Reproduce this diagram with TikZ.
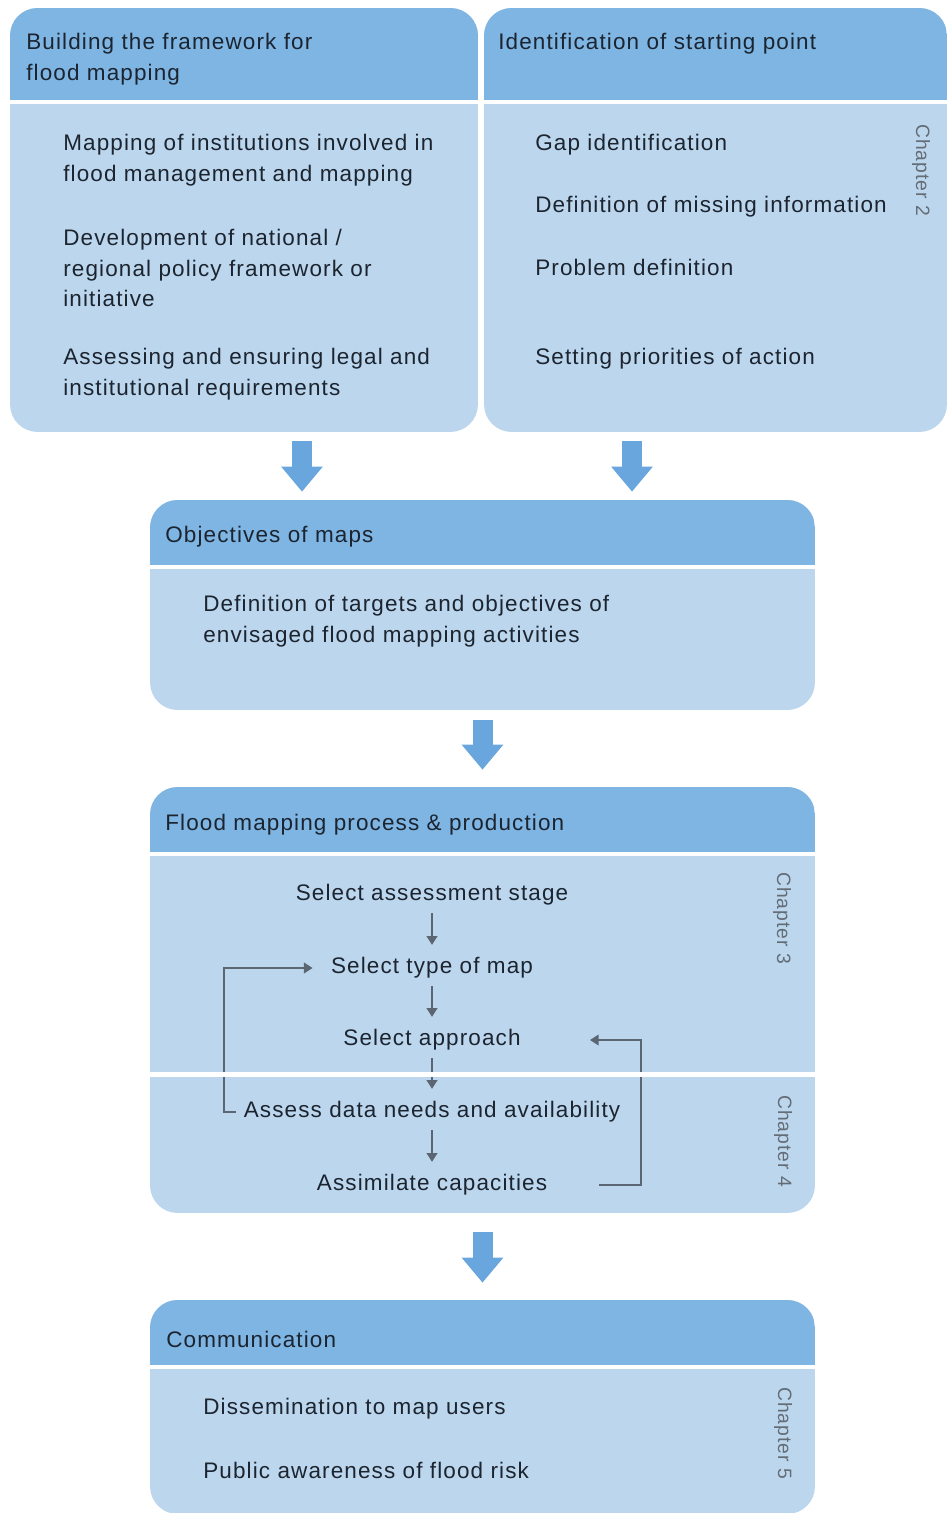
\documentclass[tikz,border=0pt]{standalone}
\usepackage{fontspec}
\setmainfont{Liberation Sans}[LetterSpace=5]
\usetikzlibrary{arrows.meta}

\definecolor{headblue}{RGB}{126,181,227}
\definecolor{bodyblue}{RGB}{188,215,237}
\definecolor{arrowblue}{RGB}{104,166,221}
\definecolor{ink}{RGB}{28,36,48}
\definecolor{flowgray}{RGB}{92,102,114}
\definecolor{chapgray}{RGB}{100,108,118}

\tikzset{
  stage/.style={fill=bodyblue, rounded corners=0.55cm, inner sep=0pt,
    path picture={
      \fill[headblue, sharp corners] (path picture bounding box.north west) rectangle ([yshift=-#1]path picture bounding box.north east);
      \draw[white, line width=0.08cm, sharp corners] ([yshift=-#1]path picture bounding box.north west) -- ([yshift=-#1]path picture bounding box.north east);
    }},
  txt/.style={inner sep=0pt, align=left, text=ink, font=\fontsize{12.8}{17.6}\selectfont},
  chap/.style={inner sep=0pt, rotate=-90, text=chapgray, font=\fontsize{11}{13}\selectfont},
  bigarrow/.style={draw=arrowblue, line width=0.4cm, -{Triangle[width=0.8cm,length=0.5cm]}},
  flow/.style={draw=flowgray, line width=1.4pt, -{Triangle[width=6pt,length=5pt]}, shorten <=4pt, shorten >=7pt},
  loopline/.style={draw=flowgray, line width=1.4pt, -{Triangle[width=6pt,length=5pt]}},
}

\begin{document}
\begin{tikzpicture}[x=0.02cm, y=-0.02cm]
        \useasboundingbox (0,0) rectangle (949,1513);

        % Boxes
        \node[stage=1.88cm, minimum width=9.36cm, minimum height=8.48cm] (b1) at (244,220) {};
        \node[stage=1.88cm, minimum width=9.26cm, minimum height=8.48cm] (b2) at (715.5,220) {};
        \node[stage=1.34cm, minimum width=13.3cm, minimum height=4.2cm] (b3) at (482.5,605) {};
        \node[stage=1.34cm, minimum width=13.3cm, minimum height=8.52cm] (b4) at (482.5,1000) {};
        \node[stage=1.34cm, minimum width=13.3cm, minimum height=4.28cm] (b5) at (482.5,1407) {};

        % Building the framework
        \node[txt, anchor=west] (t1) at (26,59.5) {Building the framework for\\flood mapping};
        \node[txt, anchor=west] (m1) at (63,160.5) {Mapping of institutions involved in\\flood management and mapping};
        \node[txt, anchor=west] (m2) at (63,268) {Development of national /\\regional policy framework or\\initiative};
        \node[txt, anchor=west] (m3) at (63,374.5) {Assessing and ensuring legal and\\institutional requirements};

        % Starting point
        \node[txt, anchor=west] (t2) at (498,44) {Identification of starting point};
        \node[txt, anchor=west] (g1) at (535,145) {Gap identification};
        \node[txt, anchor=west] (g2) at (535,207) {Definition of missing information};
        \node[txt, anchor=west] (g3) at (535,267) {Problem definition};
        \node[txt, anchor=west] (g4) at (535,359) {Setting priorities of action};
        \node[chap] (ch2) at (921,170) {Chapter 2};

        % Objectives
        \node[txt, anchor=west] (t3) at (165,537) {Objectives of maps};
        \node[txt, anchor=west] (o1) at (203,621.5) {Definition of targets and objectives of\\envisaged flood mapping activities};

        % Process & production
        \node[txt, anchor=west] (t4) at (165,825) {Flood mapping process \& production};
        \node[txt] (s1) at (432,895) {Select assessment stage};
        \node[txt] (s2) at (432,968) {Select type of map};
        \node[txt] (s3) at (432,1040) {Select approach};
        \node[txt] (s4) at (432,1112) {Assess data needs and availability};
        \node[txt] (s5) at (432,1185) {Assimilate capacities};
        \node[chap] (ch3) at (782,918) {Chapter 3};
        \node[chap] (ch4) at (783,1141) {Chapter 4};

        \draw[flow] (s1) -- (s2);
        \draw[flow] (s2) -- (s3);
        \draw[flow] (s3) -- (s4);
        \draw[flow] (s4) -- (s5);

        % Feedback loops
        \coordinate (l) at (224,0);
        \coordinate (r) at (641,0);
        \draw[loopline] ([xshift=-4.5pt]s4.west) -- (s4.west -| l) |- ([xshift=-0.36cm]s2.west);
        \draw[loopline] ([xshift=1.04cm]s5.east) -- (s5.east -| r) |- ([xshift=1.38cm]s3.east);
        \draw[white, line width=0.1cm] ([yshift=-5.75cm]b4.north west) -- ([yshift=-5.75cm]b4.north east);

        % Communication
        \node[txt, anchor=west] (t5) at (166,1339) {Communication};
        \node[txt, anchor=west] (d1) at (203,1409) {Dissemination to map users};
        \node[txt, anchor=west] (d2) at (203,1470) {Public awareness of flood risk};
        \node[chap] (ch5) at (783,1433) {Chapter 5};

        % Block arrows
        \coordinate (c1) at (302,0);
        \coordinate (c2) at (632,0);
        \draw[bigarrow, shorten <=0.18cm, shorten >=0.16cm] (b1.south -| c1) -- (b3.north -| c1);
        \draw[bigarrow, shorten <=0.18cm, shorten >=0.16cm] (b2.south -| c2) -- (b3.north -| c2);
        \draw[bigarrow, shorten <=0.2cm, shorten >=0.34cm] (b3) -- (b4);
        \draw[bigarrow, shorten <=0.38cm, shorten >=0.34cm] (b4) -- (b5);
      \end{tikzpicture}
\end{document}
